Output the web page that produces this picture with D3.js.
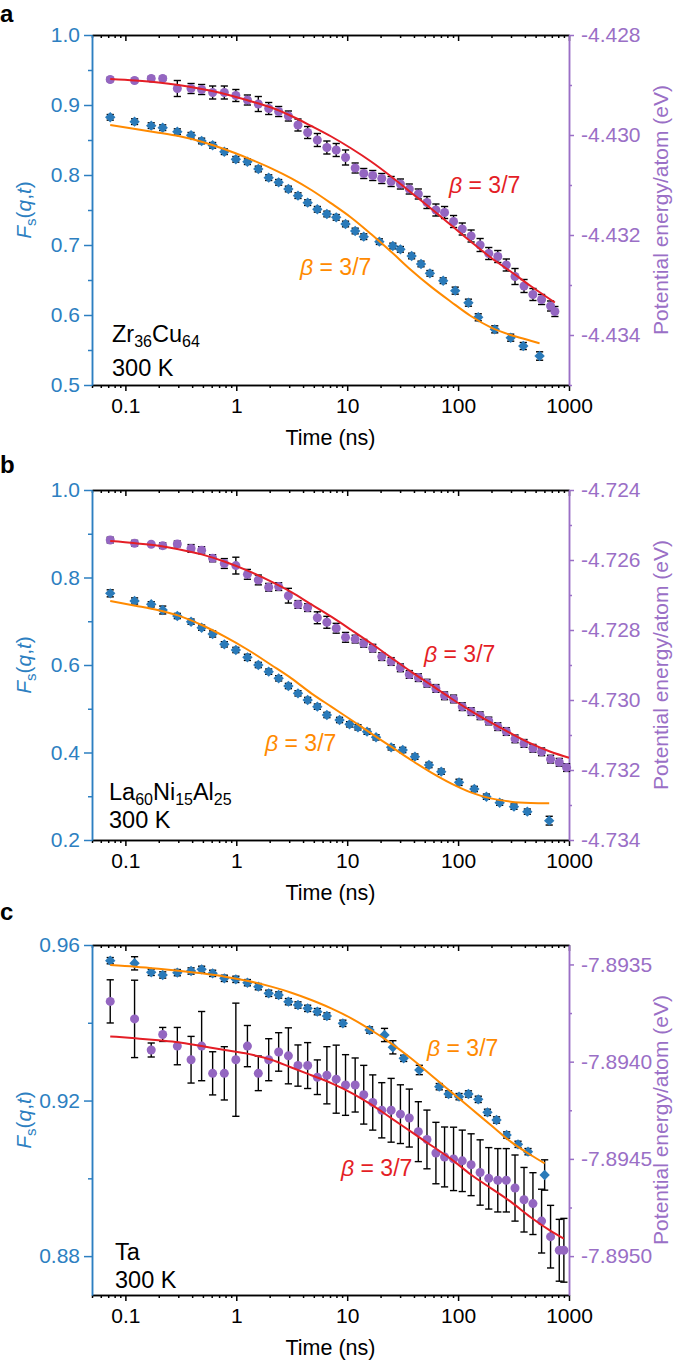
<!DOCTYPE html>
<html>
<head>
<meta charset="utf-8">
<script src="https://cdn.jsdelivr.net/npm/d3@7"></script>
<style>
  body { margin: 0; background: #fff; }
  text { font-family: "Liberation Sans", Arial, Helvetica, sans-serif; }
</style>
</head>
<body>
<div id="chart"></div>
<script>
// shared time grid (ns) of the early samples
var timeGrid = [0.073, 0.121, 0.171, 0.217, 0.294, 0.391, 0.487, 0.612, 0.78, 0.991, 1.26, 1.58, 1.96, 2.41, 2.95, 3.6, 4.4, 5.38, 6.56, 7.96, 9.66, 11.8, 14.1, 17.0, 20.5, 24.9, 30.2, 36.3, 43.8, 52.4, 63.1, 75.5, 91, 109, 131, 158, 189, 228, 272, 326, 393, 473, 566, 682];
var fitTime = [0.073, 0.123, 0.199, 0.301, 0.487, 0.789, 1.28, 2.07, 3.14, 4.75, 7.18, 10.9, 16.4, 24.9, 37.6, 56.9, 86.1, 130, 197, 298, 451];

var xTicks = [0.1, 1, 10, 100, 1000];

// panel a : Zr36Cu64
var aBlueT = timeGrid.slice(0, 23).concat([19.5, 25.8, 30.2, 38.1, 46.3, 55.7, 73.4, 94.2, 124, 152, 214, 298, 387, 543]);
var aBlueF = [0.8824, 0.8762, 0.8705, 0.8676, 0.8619, 0.8567, 0.8486, 0.8424, 0.8333, 0.8224, 0.8190, 0.8086, 0.7962, 0.7895, 0.7800, 0.7705, 0.7605, 0.7510, 0.7443, 0.7395, 0.7300, 0.7200, 0.7119, 0.7048, 0.6986, 0.6938, 0.6843, 0.6729, 0.6595, 0.6490, 0.6348, 0.6176, 0.5967, 0.5795, 0.5676, 0.5557, 0.5414];
var aBlueErr = [0.004, 0.004, 0.004, 0.004, 0.004, 0.004, 0.004, 0.004, 0.004, 0.004, 0.004, 0.004, 0.004, 0.004, 0.004, 0.004, 0.004, 0.004, 0.004, 0.004, 0.004, 0.004, 0.004, 0.004, 0.004, 0.004, 0.004, 0.004, 0.004, 0.004, 0.005, 0.005, 0.005, 0.005, 0.005, 0.005, 0.006];
var aPurpleT = timeGrid.concat([746]);
var aPurpleE = [-4.42889, -4.42891, -4.42887, -4.42887, -4.42907, -4.42907, -4.42909, -4.42915, -4.42915, -4.42921, -4.42930, -4.42938, -4.42947, -4.42953, -4.42962, -4.42980, -4.42995, -4.43010, -4.43025, -4.43030, -4.43045, -4.43066, -4.43077, -4.43081, -4.43087, -4.43093, -4.43098, -4.43108, -4.43118, -4.43135, -4.43150, -4.43155, -4.43173, -4.43188, -4.43202, -4.43220, -4.43237, -4.43243, -4.43260, -4.43283, -4.43302, -4.43319, -4.43329, -4.43342, -4.43353];
var aPurpleErr = [0.00004, 0.00004, 0.00004, 0.00004, 0.00016, 0.0001, 0.0001, 0.00013, 0.00013, 0.00012, 0.0001, 0.00015, 0.00012, 0.0001, 0.0001, 0.00012, 0.00012, 0.00013, 0.00013, 0.00013, 0.00015, 0.0001, 0.0001, 0.0001, 0.0001, 0.0001, 0.0001, 0.0001, 0.0001, 0.00012, 0.00012, 0.00012, 0.00012, 0.00012, 0.00012, 0.00013, 0.00012, 0.00012, 0.00012, 0.00016, 0.00013, 0.00012, 0.0001, 0.0001, 0.0001];
var aOrangeT = fitTime.concat([543]);
var aOrangeF = [0.8714, 0.8657, 0.8605, 0.8557, 0.8476, 0.8367, 0.8238, 0.8095, 0.7952, 0.7786, 0.7595, 0.7390, 0.7157, 0.6905, 0.6643, 0.6405, 0.6190, 0.5986, 0.5824, 0.5714, 0.5633, 0.5595];
var aRedT = fitTime.concat([746]);
var aRedE = [-4.42888, -4.42891, -4.42895, -4.42900, -4.42908, -4.42918, -4.42931, -4.42945, -4.42962, -4.42982, -4.43003, -4.43027, -4.43053, -4.43083, -4.43115, -4.43147, -4.43180, -4.43213, -4.43245, -4.43273, -4.43302, -4.43335];
var aLeftTicks = [0.5, 0.6, 0.7, 0.8, 0.9, 1.0];
var aLeftMinor = [0.55, 0.65, 0.75, 0.85, 0.95];
var aRightTicks = [-4.428, -4.430, -4.432, -4.434];
var aRightMinor = [-4.429, -4.431, -4.433, -4.435];

// panel b : La60Ni15Al25
var bBlueT = timeGrid.slice(0, 19).concat([8.53, 10.5, 12.5, 15.1, 18.2, 24.9, 31.7, 40.8, 54.6, 70.5, 102, 140, 180, 237, 319, 421, 663]);
var bBlueF = [0.7638, 0.7463, 0.7387, 0.7257, 0.7120, 0.6990, 0.6853, 0.6709, 0.6472, 0.6343, 0.6175, 0.6000, 0.5848, 0.5695, 0.5520, 0.5352, 0.5200, 0.5048, 0.4857, 0.4743, 0.4644, 0.4575, 0.4476, 0.4347, 0.4118, 0.4057, 0.3905, 0.3714, 0.3562, 0.3318, 0.3166, 0.2990, 0.2853, 0.2762, 0.2648, 0.2442];
var bBlueErr = [0.008, 0.007, 0.006, 0.009, 0.006, 0.006, 0.006, 0.007, 0.006, 0.006, 0.007, 0.006, 0.006, 0.006, 0.006, 0.006, 0.006, 0.006, 0.006, 0.006, 0.006, 0.006, 0.006, 0.006, 0.006, 0.006, 0.006, 0.006, 0.006, 0.007, 0.006, 0.006, 0.006, 0.006, 0.006, 0.01];
var bPurpleT = timeGrid.concat([817, 951]);
var bPurpleE = [-4.72543, -4.72552, -4.72555, -4.72559, -4.72554, -4.72567, -4.72572, -4.72595, -4.72610, -4.72616, -4.72641, -4.72657, -4.72678, -4.72676, -4.72702, -4.72727, -4.72736, -4.72765, -4.72778, -4.72795, -4.72821, -4.72826, -4.72838, -4.72852, -4.72876, -4.72890, -4.72908, -4.72927, -4.72936, -4.72952, -4.72967, -4.72988, -4.72997, -4.73019, -4.73033, -4.73045, -4.73060, -4.73076, -4.73090, -4.73111, -4.73124, -4.73138, -4.73148, -4.73169, -4.73178, -4.73193];
var bPurpleErr = [0.00008, 0.00008, 0.00003, 0.00008, 0.00008, 0.00011, 0.0001, 0.0001, 0.00014, 0.00024, 0.00014, 0.00014, 0.00011, 0.00011, 0.00021, 0.00011, 0.00011, 0.00017, 0.00017, 0.00014, 0.00014, 0.00011, 0.00011, 0.00011, 0.00011, 0.00011, 0.00011, 0.00011, 0.00011, 0.00011, 0.00011, 0.00011, 0.00011, 0.00011, 0.00011, 0.00011, 0.00011, 0.00011, 0.00011, 0.00011, 0.00011, 0.00011, 0.00011, 0.00011, 0.00011, 0.00011];
var bOrangeT = fitTime.concat([663]);
var bOrangeF = [0.7463, 0.7356, 0.7250, 0.7128, 0.6914, 0.6648, 0.6343, 0.6000, 0.5695, 0.5352, 0.5048, 0.4743, 0.4438, 0.4133, 0.3829, 0.3547, 0.3295, 0.3090, 0.2952, 0.2876, 0.2846, 0.2838];
var bRedT = fitTime.concat([682, 1000]);
var bRedE = [-4.72546, -4.72552, -4.72559, -4.72569, -4.72584, -4.72605, -4.72631, -4.72662, -4.72692, -4.72727, -4.72762, -4.72800, -4.72838, -4.72879, -4.72919, -4.72957, -4.72995, -4.73031, -4.73064, -4.73095, -4.73124, -4.73148, -4.73165];
var bLeftTicks = [0.2, 0.4, 0.6, 0.8, 1.0];
var bLeftMinor = [0.3, 0.5, 0.7, 0.9];
var bRightTicks = [-4.724, -4.726, -4.728, -4.730, -4.732, -4.734];
var bRightMinor = [-4.725, -4.727, -4.729, -4.731, -4.733];

// panel c : Ta
var cBlueT = timeGrid.slice(0, 19).concat([9.14, 15.9, 21.7, 25.8, 32.3, 44.7, 67.6, 82.0, 102, 124, 152, 184, 222, 274, 347, 427, 603]);
var cBlueF = [0.95597, 0.95529, 0.95297, 0.95229, 0.95289, 0.95331, 0.95374, 0.95271, 0.95143, 0.95117, 0.95031, 0.94929, 0.94757, 0.94714, 0.94543, 0.94457, 0.94371, 0.94286, 0.94174, 0.93986, 0.93814, 0.93686, 0.93369, 0.93086, 0.92786, 0.92357, 0.92169, 0.92100, 0.92169, 0.92031, 0.91697, 0.91500, 0.91114, 0.90874, 0.90686, 0.90086];
var cBlueErr = [0.0008, 0.0017, 0.0008, 0.0008, 0.0008, 0.0008, 0.0008, 0.0008, 0.0008, 0.0008, 0.0008, 0.0008, 0.0008, 0.0008, 0.0008, 0.0008, 0.0008, 0.0008, 0.0008, 0.0008, 0.0008, 0.0017, 0.0017, 0.0008, 0.0012, 0.0008, 0.0008, 0.0008, 0.0008, 0.0008, 0.0008, 0.0008, 0.0008, 0.0008, 0.0008, 0.0039];
var cPurpleT = timeGrid.concat([817, 899]);
var cPurpleE = [-7.89369, -7.89378, -7.89394, -7.89386, -7.89392, -7.89399, -7.89392, -7.89406, -7.89406, -7.89399, -7.89392, -7.89406, -7.89399, -7.89395, -7.89397, -7.89402, -7.89402, -7.89408, -7.89407, -7.89409, -7.89412, -7.89412, -7.89417, -7.89421, -7.89425, -7.89425, -7.89427, -7.89429, -7.89436, -7.89440, -7.89447, -7.89449, -7.89450, -7.89451, -7.89453, -7.89457, -7.89460, -7.89461, -7.89461, -7.89465, -7.89471, -7.89473, -7.89482, -7.89490, -7.89497, -7.89497];
var cPurpleErr = [0.000111, 0.000199, 0.000036, 0.000036, 0.000096, 0.00012, 0.000178, 0.000111, 0.000137, 0.000291, 0.000106, 0.000089, 0.000108, 0.000099, 0.000144, 0.000106, 0.000118, 0.000089, 0.000147, 0.000175, 0.000156, 0.000139, 0.000151, 0.000142, 0.000142, 0.000164, 0.000151, 0.000149, 0.000154, 0.000151, 0.000158, 0.000154, 0.000163, 0.000158, 0.000159, 0.000168, 0.000158, 0.000163, 0.000163, 0.00017, 0.000166, 0.000159, 0.000164, 0.000161, 0.000159, 0.000164];
var cOrangeT = fitTime.concat([603]);
var cOrangeF = [0.95486, 0.95443, 0.95391, 0.95340, 0.95271, 0.95186, 0.95074, 0.94929, 0.94774, 0.94586, 0.94371, 0.94114, 0.93814, 0.93471, 0.93086, 0.92657, 0.92229, 0.91800, 0.91371, 0.90943, 0.90600, 0.90386];
var cRedT = fitTime.concat([682, 899]);
var cRedE = [-7.89387, -7.89388, -7.89389, -7.89390, -7.89392, -7.89394, -7.89396, -7.89399, -7.89403, -7.89407, -7.89411, -7.89416, -7.89422, -7.89429, -7.89436, -7.89443, -7.89450, -7.89458, -7.89465, -7.89472, -7.89480, -7.89487, -7.89491];
var cLeftTicks = [0.88, 0.92, 0.96];
var cLeftMinor = [0.90, 0.94];
var cRightTicks = [-7.8935, -7.8940, -7.8945, -7.8950];
var cRightMinor = [-7.89375, -7.89425, -7.89475];

var blueMark = "#2a7ab9", purpleMark = "#9466c1",
    redLine = "#e41e26", orangeLine = "#ff8a00",
    axisBlue = "#2d7fc1", axisPurple = "#9a6fc6";

var left = 92, right = 569;

var svg = d3.select("#chart").append("svg")
    .attr("width", 685)
    .attr("height", 1367);

function zip(a, b, e) {
  return a.map(function(d, i) { return {t: d, v: b[i], e: e ? e[i] : 0}; });
}

function drawPanel(p) {
  var g = svg.append("g");

  var x = d3.scaleLog().domain([0.05, 1000]).range([left, right]);
  var yL = d3.scaleLinear().domain(p.leftDomain).range([p.bottom, p.top]);
  var yR = d3.scaleLinear().domain(p.rightDomain).range([p.bottom, p.top]);

  var minorX = x.ticks().filter(function(d) { return xTicks.indexOf(d) < 0; });

  // bottom axis (ticks out) and top axis (ticks in)
  g.append("g").attr("class", "ax")
      .attr("transform", "translate(0," + p.bottom + ")")
      .call(d3.axisBottom(x).tickValues(xTicks).tickSize(6).tickSizeOuter(0).tickPadding(7)
        .tickFormat(function(d) { return String(d); }));
  g.append("g").attr("class", "ax")
      .attr("transform", "translate(0," + p.bottom + ")")
      .call(d3.axisBottom(x).tickValues(minorX).tickSize(3).tickSizeOuter(0).tickFormat(""));
  g.append("g").attr("class", "ax")
      .attr("transform", "translate(0," + p.top + ")")
      .call(d3.axisBottom(x).tickValues(xTicks).tickSize(6).tickSizeOuter(0).tickFormat(""));
  g.append("g").attr("class", "ax")
      .attr("transform", "translate(0," + p.top + ")")
      .call(d3.axisBottom(x).tickValues(minorX).tickSize(3).tickSizeOuter(0).tickFormat(""));
  g.selectAll(".ax path, .ax line").attr("stroke", "#000").attr("stroke-width", 1.5);
  g.selectAll(".ax text").attr("font-size", 21).attr("fill", "#000");

  // left axis
  var la = g.append("g").attr("transform", "translate(" + left + ",0)");
  la.append("g").call(d3.axisLeft(yL).tickValues(p.leftTicks).tickSize(8).tickSizeOuter(0).tickPadding(4).tickFormat(d3.format(p.leftFmt)));
  la.append("g").call(d3.axisLeft(yL).tickValues(p.leftMinor).tickSize(4).tickSizeOuter(0).tickFormat(""));
  la.selectAll("path, line").attr("stroke", axisBlue).attr("stroke-width", 1.5);
  la.selectAll("text").attr("font-size", 21).attr("fill", axisBlue);

  // right axis
  var ra = g.append("g").attr("transform", "translate(" + right + ",0)");
  ra.append("g").call(d3.axisRight(yR).tickValues(p.rightTicks).tickSize(5).tickSizeOuter(0).tickPadding(7)
      .tickFormat(function(d) { return d.toFixed(p.rightDigits); }));
  ra.append("g").call(d3.axisRight(yR).tickValues(p.rightMinor).tickSize(3).tickSizeOuter(0).tickFormat(""));
  ra.selectAll("path, line").attr("stroke", axisPurple).attr("stroke-width", 1.5);
  ra.selectAll("text").attr("font-size", 21).attr("fill", axisPurple);

  var blue = zip(p.blueT, p.blueF, p.blueErr);
  var purple = zip(p.purpleT, p.purpleE, p.purpleErr);

  // error bars (behind the markers)
  function bars(data, y) {
    var eb = g.append("g").attr("stroke", "#000").attr("stroke-width", 1.4).attr("fill", "none");
    eb.selectAll(".v").data(data).enter().append("line")
        .attr("x1", function(d) { return x(d.t); }).attr("x2", function(d) { return x(d.t); })
        .attr("y1", function(d) { return y(d.v - d.e); }).attr("y2", function(d) { return y(d.v + d.e); });
    [-1, 1].forEach(function(s) {
      eb.selectAll(".c" + s).data(data).enter().append("line")
          .attr("x1", function(d) { return x(d.t) - 3.6; }).attr("x2", function(d) { return x(d.t) + 3.6; })
          .attr("y1", function(d) { return y(d.v + s * d.e); }).attr("y2", function(d) { return y(d.v + s * d.e); });
    });
  }
  bars(purple, yR);
  bars(blue, yL);

  g.append("g").selectAll("circle").data(purple).enter().append("circle")
      .attr("cx", function(d) { return x(d.t); })
      .attr("cy", function(d) { return yR(d.v); })
      .attr("r", 4.5)
      .attr("fill", purpleMark);

  var diamond = d3.symbol().type(d3.symbolSquare).size(54);
  g.append("g").selectAll("path").data(blue).enter().append("path")
      .attr("d", diamond)
      .attr("transform", function(d) { return "translate(" + x(d.t) + "," + yL(d.v) + ") rotate(45)"; })
      .attr("fill", blueMark);

  // stretched exponential fits
  var lineL = d3.line().curve(d3.curveMonotoneX)
      .x(function(d) { return x(d.t); }).y(function(d) { return yL(d.v); });
  var lineR = d3.line().curve(d3.curveMonotoneX)
      .x(function(d) { return x(d.t); }).y(function(d) { return yR(d.v); });
  g.append("path").datum(zip(p.orangeT, p.orangeF)).attr("d", lineL)
      .attr("fill", "none").attr("stroke", orangeLine).attr("stroke-width", 2);
  g.append("path").datum(zip(p.redT, p.redE)).attr("d", lineR)
      .attr("fill", "none").attr("stroke", redLine).attr("stroke-width", 2);

  function beta(pos, col) {
    var t = g.append("text").attr("x", pos[0]).attr("y", pos[1]).attr("font-size", 23).attr("fill", col);
    t.append("tspan").attr("font-style", "italic").text("β");
    t.append("tspan").text(" = 3/7");
  }
  beta(p.orangeLabel, orangeLine);
  beta(p.redLabel, redLine);

  // composition + temperature
  var comp = g.append("text").attr("x", p.textX).attr("y", p.compY).attr("font-size", 23.5).attr("fill", "#000");
  p.comp.forEach(function(part, i) {
    var ts = comp.append("tspan").text(part);
    if (i % 2 === 1) ts.attr("font-size", 16).attr("dy", 5);
    else if (i > 0) ts.attr("dy", -5);
  });
  g.append("text").attr("x", p.textX).attr("y", p.tempY).attr("font-size", 23.5).text("300 K");

  // axis titles
  var mid = (p.top + p.bottom) / 2;
  g.append("text").attr("x", (left + right) / 2).attr("y", p.bottom + 60)
      .attr("text-anchor", "middle").attr("font-size", 21.5).text("Time (ns)");

  var lt = g.append("text").attr("transform", "translate(31," + mid + ") rotate(-90)")
      .attr("text-anchor", "middle").attr("font-size", 21).attr("fill", axisBlue);
  lt.append("tspan").attr("font-style", "italic").text("F");
  lt.append("tspan").attr("font-size", 15).attr("dy", 5).text("s");
  lt.append("tspan").attr("dy", -5).text("(");
  lt.append("tspan").attr("font-style", "italic").text("q");
  lt.append("tspan").text(",");
  lt.append("tspan").attr("font-style", "italic").text("t");
  lt.append("tspan").text(")");

  g.append("text").attr("transform", "translate(668," + mid + ") rotate(-90)")
      .attr("text-anchor", "middle").attr("font-size", 21).attr("fill", axisPurple)
      .text("Potential energy/atom (eV)");

  svg.append("text").attr("x", 0).attr("y", p.letterY)
      .attr("font-size", 24).attr("font-weight", "bold").text(p.letter);
}

drawPanel({
  letter: "a", letterY: 22, top: 35, bottom: 385,
  leftDomain: [0.5, 1.0], leftTicks: aLeftTicks, leftMinor: aLeftMinor, leftFmt: ".1f",
  rightDomain: [-4.435, -4.428], rightTicks: aRightTicks, rightMinor: aRightMinor, rightDigits: 3,
  blueT: aBlueT, blueF: aBlueF, blueErr: aBlueErr,
  purpleT: aPurpleT, purpleE: aPurpleE, purpleErr: aPurpleErr,
  orangeT: aOrangeT, orangeF: aOrangeF, redT: aRedT, redE: aRedE,
  orangeLabel: [300, 275], redLabel: [449, 193],
  comp: ["Zr", "36", "Cu", "64"], textX: 112, compY: 342, tempY: 376
});

drawPanel({
  letter: "b", letterY: 473, top: 490, bottom: 840,
  leftDomain: [0.2, 1.0], leftTicks: bLeftTicks, leftMinor: bLeftMinor, leftFmt: ".1f",
  rightDomain: [-4.734, -4.724], rightTicks: bRightTicks, rightMinor: bRightMinor, rightDigits: 3,
  blueT: bBlueT, blueF: bBlueF, blueErr: bBlueErr,
  purpleT: bPurpleT, purpleE: bPurpleE, purpleErr: bPurpleErr,
  orangeT: bOrangeT, orangeF: bOrangeF, redT: bRedT, redE: bRedE,
  orangeLabel: [265, 751], redLabel: [424, 662],
  comp: ["La", "60", "Ni", "15", "Al", "25"], textX: 109, compY: 800, tempY: 828
});

drawPanel({
  letter: "c", letterY: 920, top: 945, bottom: 1295,
  leftDomain: [0.87, 0.96], leftTicks: cLeftTicks, leftMinor: cLeftMinor, leftFmt: ".2f",
  rightDomain: [-7.8952, -7.8934], rightTicks: cRightTicks, rightMinor: cRightMinor, rightDigits: 4,
  blueT: cBlueT, blueF: cBlueF, blueErr: cBlueErr,
  purpleT: cPurpleT, purpleE: cPurpleE, purpleErr: cPurpleErr,
  orangeT: cOrangeT, orangeF: cOrangeF, redT: cRedT, redE: cRedE,
  orangeLabel: [427, 1056], redLabel: [341, 1176],
  comp: ["Ta"], textX: 115, compY: 1260, tempY: 1288
});
</script>
</body>
</html>
